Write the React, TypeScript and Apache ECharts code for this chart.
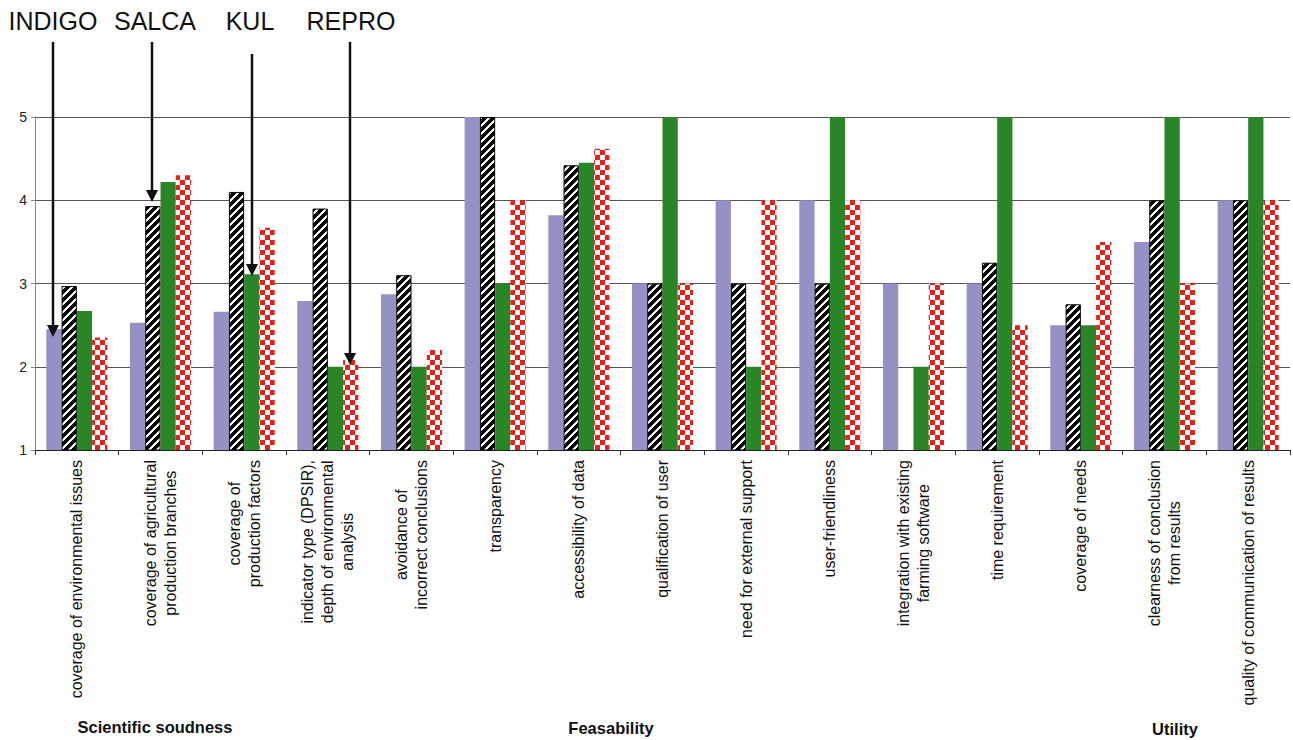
import React, { useEffect, useRef } from "react";
import * as echarts from "echarts";

const categories = [
  "coverage of environmental issues",
  "coverage of agricultural\nproduction branches",
  "coverage of\nproduction factors",
  "indicator type (DPSIR),\ndepth of environmental\nanalysis",
  "avoidance of\nincorrect conclusions",
  "transparency",
  "accessibility of data",
  "qualification of user",
  "need for external support",
  "user-friendliness",
  "integration with existing\nfarming software",
  "time requirement",
  "coverage of needs",
  "clearness of conclusion\nfrom results",
  "quality of communication of results",
];

const seriesNames = ["INDIGO", "SALCA", "KUL", "REPRO"];
const indigo = [2.45, 2.53, 2.66, 2.79, 2.87, 5, 3.82, 3, 4, 4, 3, 3, 2.5, 3.5, 4];
const salca = [2.97, 3.93, 4.1, 3.9, 3.1, 5, 4.42, 3, 3, 3, null, 3.25, 2.75, 4, 4];
const kul = [2.67, 4.22, 3.11, 2.0, 2.0, 3, 4.45, 5, 2, 5, 2, 5, 2.5, 5, 5];
const repro = [2.35, 4.3, 3.67, 2.08, 2.2, 4, 4.62, 3, 4, 4, 3, 2.5, 3.5, 3, 4];

const yTicks = [1, 2, 3, 4, 5];
const groupLabels = ["Scientific soudness", "Feasability", "Utility"];

const FONT = '"Liberation Sans", Arial, sans-serif';

function makeHatch(): string {
  const s = 8;
  const c = document.createElement("canvas");
  c.width = s;
  c.height = s;
  const ctx = c.getContext("2d")!;
  ctx.fillStyle = "#ffffff";
  ctx.fillRect(0, 0, s, s);
  ctx.fillStyle = "#000000";
  for (let y = 0; y < s; y++) {
    for (let x = 0; x < s; x++) {
      if ((x + y) % s < 5) ctx.fillRect(x, y, 1, 1);
    }
  }
  return c.toDataURL();
}

function makeChecker(): string {
  const s = 10;
  const c = document.createElement("canvas");
  c.width = s;
  c.height = s;
  const ctx = c.getContext("2d")!;
  ctx.fillStyle = "#ffffff";
  ctx.fillRect(0, 0, s, s);
  ctx.fillStyle = "#E8201A";
  ctx.fillRect(0, 0, 5, 5);
  ctx.fillRect(5, 5, 5, 5);
  return c.toDataURL();
}

export default function App() {
  const ref = useRef<HTMLDivElement>(null);

  useEffect(() => {
    if (!ref.current) return;
    const chart = echarts.init(ref.current, null, { renderer: "svg" });

    const hatch = { image: makeHatch(), repeat: "repeat", imageWidth: 8, imageHeight: 8 };
    const checker = { image: makeChecker(), repeat: "repeat", imageWidth: 10, imageHeight: 10 };

    const arrow = (x: number, y0: number, tip: number) => [
      {
        type: "line",
        shape: { x1: x, y1: y0, x2: x, y2: tip - 10 },
        style: { stroke: "#111", lineWidth: 2.5 },
        z: 100,
      },
      {
        type: "polygon",
        shape: { points: [[x - 6, tip - 12], [x + 6, tip - 12], [x, tip]] },
        style: { fill: "#111" },
        z: 100,
      },
    ];

    const topLabel = (text: string, x: number) => ({
      type: "text",
      x,
      y: 21,
      style: {
        text,
        font: `25px ${FONT}`,
        fill: "#111",
        textAlign: "center",
        textVerticalAlign: "middle",
      },
      z: 100,
    });

    const groupLabel = (text: string, x: number, y: number) => ({
      type: "text",
      x,
      y,
      style: {
        text,
        font: `bold 16.5px ${FONT}`,
        fill: "#111",
        textAlign: "center",
        textVerticalAlign: "middle",
      },
      z: 100,
    });

    const option: any = {
      animation: false,
      backgroundColor: "#ffffff",
      grid: { left: 35, right: 3, top: 117, bottom: 290, containLabel: false },
      xAxis: {
        type: "category",
        data: categories,
        boundaryGap: true,
        axisLine: { lineStyle: { color: "#222", width: 1 } },
        axisTick: { show: true, alignWithLabel: false, length: 5, lineStyle: { color: "#333" } },
        axisLabel: {
          interval: 0,
          rotate: 90,
          margin: 10,
          fontFamily: FONT,
          fontSize: 16,
          color: "#111",
          lineHeight: 20,
          formatter: (v: string) => v.split("\n").map((l) => `{c|${l}}`).join("\n"),
          rich: {
            c: { align: "center", fontFamily: FONT, fontSize: 16, color: "#111", lineHeight: 20 },
          },
        },
        splitLine: { show: false },
      },
      yAxis: {
        type: "value",
        min: yTicks[0],
        max: yTicks[yTicks.length - 1],
        interval: 1,
        axisLine: { show: true, lineStyle: { color: "#888", width: 1 } },
        axisTick: { show: true, length: 4, lineStyle: { color: "#888" } },
        axisLabel: { fontFamily: FONT, fontSize: 14, color: "#222", margin: 8 },
        splitLine: { show: true, lineStyle: { color: "#555", width: 1 } },
      },
      series: [
        {
          name: seriesNames[0],
          type: "bar",
          data: indigo,
          barGap: "0%",
          barCategoryGap: "27%",
          itemStyle: { color: "#9691C4" },
        },
        {
          name: seriesNames[1],
          type: "bar",
          data: salca,
          itemStyle: { color: hatch, borderColor: "#000", borderWidth: 1 },
        },
        {
          name: seriesNames[2],
          type: "bar",
          data: kul,
          itemStyle: { color: "#2A8528" },
        },
        {
          name: seriesNames[3],
          type: "bar",
          data: repro,
          itemStyle: { color: checker },
        },
      ],
      graphic: [
        topLabel(seriesNames[0], 53),
        topLabel(seriesNames[1], 155),
        topLabel(seriesNames[2], 250),
        topLabel(seriesNames[3], 351),
        ...arrow(53, 42, 337),
        ...arrow(152, 42, 202),
        ...arrow(252, 54, 276),
        ...arrow(350, 42, 365),
        groupLabel(groupLabels[0], 155, 727),
        groupLabel(groupLabels[1], 611, 728),
        groupLabel(groupLabels[2], 1175, 729),
      ],
    };

    chart.setOption(option);
    return () => chart.dispose();
  }, []);

  return (
    <div
      ref={ref}
      style={{ position: "absolute", left: 0, top: 0, width: 1293, height: 740 }}
    />
  );
}
